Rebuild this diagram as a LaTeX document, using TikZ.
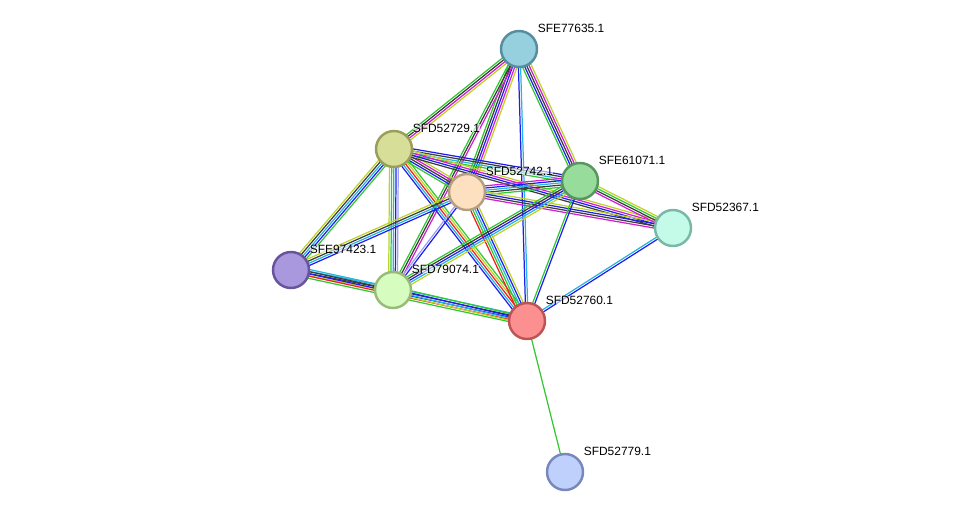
\documentclass[tikz,border=0pt]{standalone}
\usepackage{fontspec}
\setmainfont{Liberation Sans}
\usetikzlibrary{calc,backgrounds}
\definecolor{tgreen}{RGB}{50,200,50}
\definecolor{tred}{RGB}{240,30,30}
\definecolor{tblue}{RGB}{30,30,240}
\definecolor{tblack}{RGB}{60,60,60}
\definecolor{tmag}{RGB}{210,30,210}
\definecolor{tcyan}{RGB}{40,180,220}
\definecolor{tyel}{RGB}{190,210,40}
\definecolor{tlav}{RGB}{160,160,250}
% one coloured line per evidence channel, side by side
\newcommand\bundle[3]{%
  \foreach \c [count=\n] in {#3} {\xdef\bundlen{\n}}%
  \foreach \c [count=\i] in {#3} {%
    \pgfmathsetmacro\off{(\i-(\bundlen+1)/2)*0.044}%
    \draw[line width=0.7pt,\c] ($(#1)!\off cm!90:(#2)$) -- ($(#2)!\off cm!-90:(#1)$);
  }}
\tikzset{
  protein/.style={circle, minimum size=0.72cm, inner sep=0pt, line width=1.4pt},
  tag/.style={label={[inner sep=0pt, xshift=-0.015cm, yshift=0.42cm, fill=white, fill opacity=0.6, text opacity=1, font=\fontsize{6.8}{8}\selectfont]right:#1}}
}
\begin{document}
\begin{tikzpicture}
			%%%%% START %%%%%
			\useasboundingbox (0,0) rectangle (19.52,-10.36);
			
			\node[protein, tag=SFE77635.1, fill={rgb,255:red,150;green,208;blue,222}, draw={rgb,255:red,86;green,142;blue,160}] (e77635) at (10.38,-0.98) {};
			\node[protein, tag=SFD52729.1, fill={rgb,255:red,214;green,222;blue,152}, draw={rgb,255:red,154;green,158;blue,88}] (d52729) at (7.88,-2.98) {};
			\node[protein, tag=SFD52742.1, fill={rgb,255:red,252;green,224;blue,192}, draw={rgb,255:red,180;green,160;blue,128}] (d52742) at (9.34,-3.84) {};
			\node[protein, tag=SFE61071.1, fill={rgb,255:red,152;green,220;blue,156}, draw={rgb,255:red,88;green,150;blue,96}] (e61071) at (11.60,-3.62) {};
			\node[protein, tag=SFD52367.1, fill={rgb,255:red,196;green,250;blue,232}, draw={rgb,255:red,120;green,184;blue,166}] (d52367) at (13.46,-4.56) {};
			\node[protein, tag=SFE97423.1, fill={rgb,255:red,170;green,152;blue,222}, draw={rgb,255:red,104;green,84;blue,156}] (e97423) at (5.82,-5.40) {};
			\node[protein, tag=SFD79074.1, fill={rgb,255:red,214;green,252;blue,192}, draw={rgb,255:red,152;green,188;blue,120}] (d79074) at (7.86,-5.80) {};
			\node[protein, tag=SFD52760.1, fill={rgb,255:red,252;green,144;blue,144}, draw={rgb,255:red,188;green,84;blue,84}] (d52760) at (10.54,-6.42) {};
			\node[protein, tag=SFD52779.1, fill={rgb,255:red,192;green,208;blue,252}, draw={rgb,255:red,120;green,136;blue,188}] (d52779) at (11.30,-9.44) {};
			
			\begin{scope}[on background layer]
			\bundle{e77635}{d52729}{tgreen,tblack,tmag,tyel}
			\bundle{e77635}{d52742}{tgreen,tblack,tblue,tmag,tyel}
			\bundle{e77635}{d79074}{tgreen,tblack,tmag}
			\bundle{e77635}{e61071}{tgreen,tblue,tblack,tmag,tyel}
			\bundle{e77635}{d52760}{tblue,tcyan}
			
			\bundle{d52729}{d52742}{tgreen,tblue,tblack,tmag,tyel}
			\bundle{d52729}{e61071}{tgreen,tcyan,tblack,tblue}
			\bundle{d52729}{d52367}{tblack,tblue,tmag,tyel}
			\bundle{d52729}{e97423}{tyel,tblack,tcyan,tblue,tgreen}
			\bundle{d52729}{d79074}{tyel,tgreen,tcyan,tblue,tlav}
			\bundle{d52729}{d52760}{tblue,tcyan,tred,tyel,tgreen}
			
			\bundle{d52742}{e61071}{tgreen,tblack,tcyan,tblue,tmag}
			\bundle{d52742}{d52367}{tmag,tblack,tblue,tyel}
			\bundle{d52742}{e97423}{tyel,tblack,tcyan,tblue}
			\bundle{d52742}{d79074}{tlav,tblue}
			\bundle{d52742}{d52760}{tred,tgreen,tcyan,tblue,tyel}
			
			\bundle{e61071}{d52367}{tmag,tblack,tgreen,tyel}
			\bundle{e61071}{d79074}{tgreen,tblack,tblue,tcyan,tyel}
			\bundle{e61071}{d52760}{tgreen,tblue}
			\bundle{d52367}{d52760}{tcyan,tblue}
			
			\bundle{e97423}{d79074}{tyel,tblack,tcyan}
			\bundle{e97423}{d52760}{tgreen,tred,tblue,tblack,tcyan}
			\bundle{d79074}{d52760}{tyel,tcyan,tblue,tgreen}
			\bundle{d52760}{d52779}{tgreen}
			\end{scope}
			
			%%%%% END %%%%%
\end{tikzpicture}
\end{document}
